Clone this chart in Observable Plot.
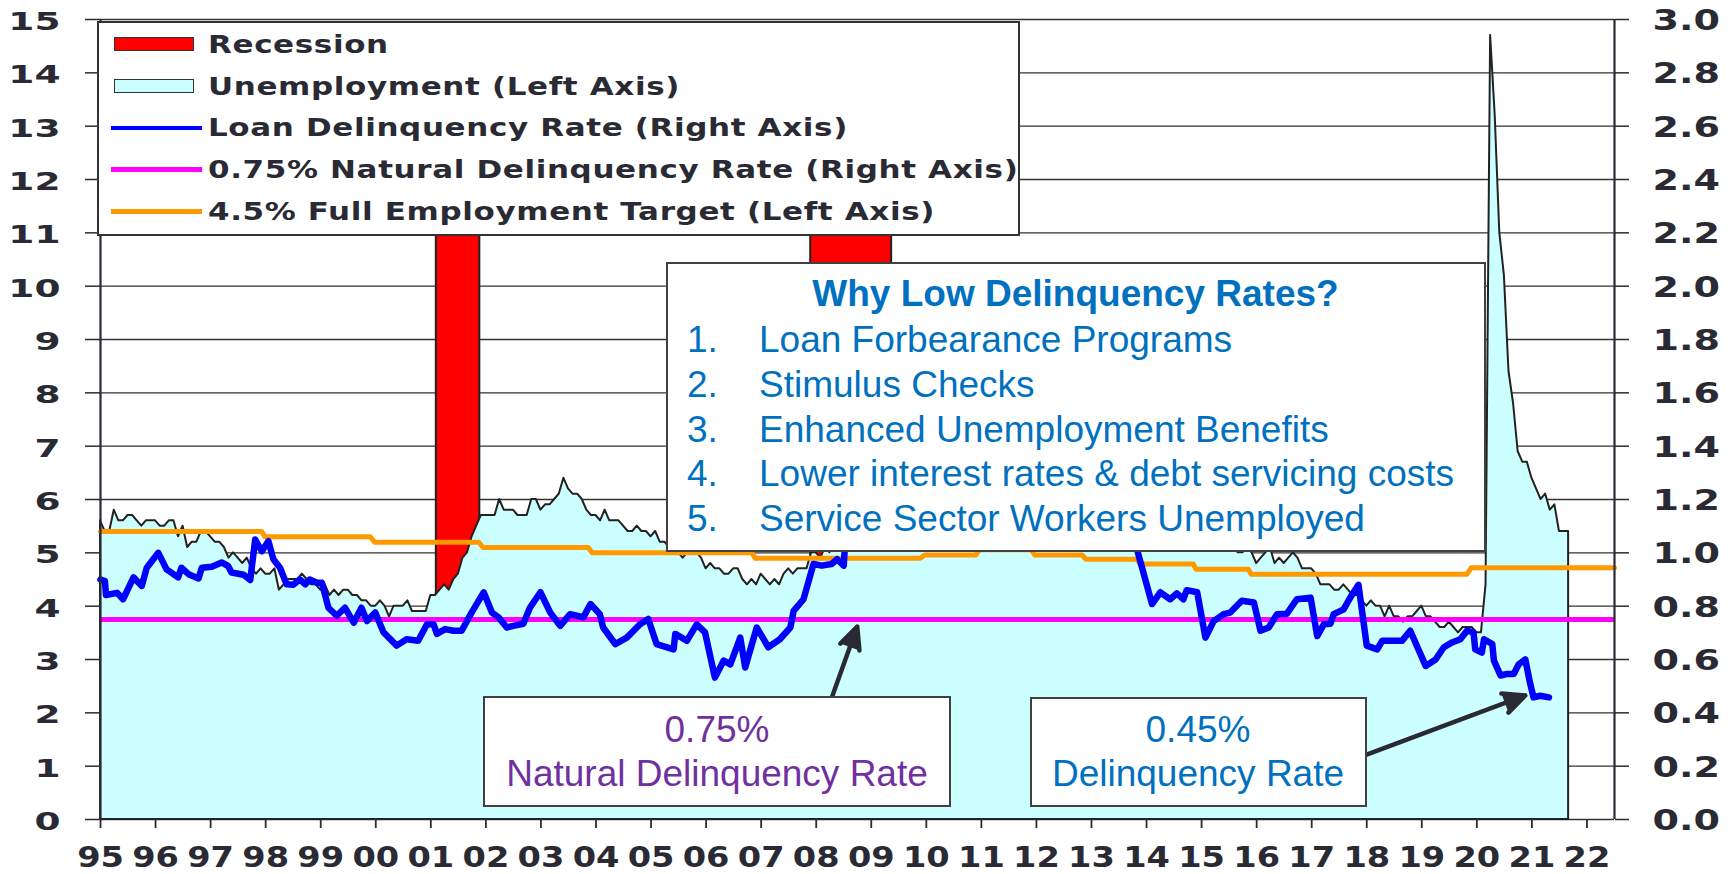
<!DOCTYPE html>
<html><head><meta charset="utf-8">
<script src="https://cdn.jsdelivr.net/npm/d3@7"></script>
<script src="https://cdn.jsdelivr.net/npm/@observablehq/plot@0.6"></script>
<style>
html,body{margin:0;padding:0;background:#fff;overflow:hidden}
#wrap{position:relative;width:1731px;height:874px;background:#fff}
#wrap svg{position:absolute;left:0;top:0}
.ov{position:absolute;box-sizing:border-box;background:#fff}
.t{position:absolute;white-space:nowrap}
</style></head><body><div id="wrap"></div>
<script>
// ---------------- DATA ----------------
const unemploymentStart = 1995; // monthly, Jan 1995 onward (left axis, %)
const unemployment = [
  5.6,5.4,5.4,5.8,5.6,5.6,5.7,5.7,5.6,5.5,5.6,5.6,
  5.6,5.5,5.5,5.6,5.6,5.3,5.5,5.1,5.2,5.2,5.4,5.4,
  5.3,5.2,5.2,5.1,4.9,5.0,4.9,4.8,4.9,4.7,4.6,4.7,
  4.6,4.6,4.7,4.3,4.4,4.5,4.5,4.5,4.6,4.5,4.4,4.4,
  4.3,4.4,4.2,4.3,4.2,4.3,4.3,4.2,4.2,4.1,4.1,4.0,
  4.0,4.1,4.0,3.8,4.0,4.0,4.0,4.1,3.9,3.9,3.9,3.9,
  4.2,4.2,4.3,4.4,4.3,4.5,4.6,4.9,5.0,5.3,5.5,5.7,
  5.7,5.7,5.7,6.0,5.8,5.8,5.8,5.7,5.7,5.7,6.0,6.0,
  5.8,5.9,5.9,6.0,6.1,6.4,6.2,6.1,6.1,6.0,5.8,5.7,
  5.7,5.6,5.8,5.6,5.6,5.6,5.5,5.4,5.4,5.5,5.4,5.4,
  5.3,5.4,5.2,5.2,5.1,5.0,5.0,4.9,5.0,5.0,5.0,4.9,
  4.7,4.8,4.7,4.7,4.6,4.6,4.7,4.7,4.5,4.4,4.5,4.4,
  4.6,4.5,4.4,4.5,4.4,4.6,4.7,4.6,4.7,4.7,4.7,5.0,
  5.0,4.9,5.1,5.0,5.4,5.6,5.8,6.1,6.1,6.5,6.8,7.3,
  7.8,8.3,8.7,9.0,9.4,9.5,9.5,9.6,9.8,10.0,9.9,9.9,
  9.8,9.8,9.9,9.9,9.6,9.4,9.4,9.5,9.5,9.4,9.8,9.3,
  9.1,9.0,9.0,9.1,9.0,9.1,9.0,9.0,9.0,8.8,8.6,8.5,
  8.3,8.3,8.2,8.2,8.2,8.2,8.2,8.1,7.8,7.8,7.7,7.9,
  8.0,7.7,7.5,7.6,7.5,7.5,7.3,7.2,7.2,7.2,6.9,6.7,
  6.6,6.7,6.7,6.2,6.3,6.1,6.2,6.1,5.9,5.7,5.8,5.6,
  5.7,5.5,5.4,5.4,5.6,5.3,5.2,5.1,5.0,5.0,5.1,5.0,
  4.8,4.9,5.0,5.1,4.8,4.9,4.8,4.9,5.0,4.9,4.7,4.7,
  4.7,4.6,4.4,4.4,4.4,4.3,4.3,4.4,4.3,4.2,4.2,4.1,
  4.0,4.1,4.0,4.0,3.8,4.0,3.8,3.8,3.7,3.8,3.8,3.9,
  4.0,3.8,3.8,3.7,3.6,3.6,3.7,3.6,3.5,3.6,3.6,3.6,
  3.5,3.5,4.4,14.7,13.2,11.0,10.2,8.4,7.8,6.9,6.7,6.7,
  6.4,6.2,6.0,6.1,5.8,5.9,5.4,5.4,5.4
];

// Loan delinquency rate (right axis, %): [date, rate]
const delinquency = [
  [1995.00,0.900],[1995.08,0.894],[1995.10,0.842],[1995.30,0.850],[1995.41,0.826],[1995.60,0.908],
  [1995.75,0.876],[1995.84,0.944],[1996.05,1.000],[1996.20,0.938],[1996.41,0.908],[1996.47,0.944],
  [1996.60,0.920],[1996.78,0.904],[1996.84,0.944],[1997.02,0.948],[1997.20,0.964],[1997.32,0.950],
  [1997.38,0.926],[1997.60,0.918],[1997.72,0.898],[1997.81,1.050],[1997.93,1.006],[1998.05,1.044],
  [1998.14,0.976],[1998.26,0.944],[1998.38,0.882],[1998.50,0.880],[1998.62,0.900],[1998.72,0.882],
  [1998.80,0.900],[1998.93,0.888],[1999.02,0.888],[1999.14,0.794],[1999.29,0.764],[1999.44,0.794],
  [1999.60,0.738],[1999.74,0.794],[1999.84,0.744],[1999.99,0.776],[2000.14,0.702],[2000.38,0.652],
  [2000.56,0.676],[2000.77,0.670],[2000.93,0.732],[2001.05,0.732],[2001.11,0.696],[2001.26,0.714],
  [2001.41,0.708],[2001.56,0.708],[2001.74,0.776],[2001.96,0.852],[2002.11,0.776],[2002.23,0.758],
  [2002.38,0.720],[2002.50,0.726],[2002.68,0.734],[2002.80,0.794],[2002.99,0.852],[2003.17,0.776],
  [2003.35,0.726],[2003.53,0.770],[2003.65,0.764],[2003.77,0.758],[2003.90,0.808],[2004.07,0.770],
  [2004.13,0.720],[2004.35,0.658],[2004.56,0.682],[2004.80,0.732],[2004.95,0.752],[2005.10,0.658],
  [2005.41,0.638],[2005.44,0.696],[2005.65,0.670],[2005.83,0.732],[2005.98,0.702],[2006.16,0.532],
  [2006.32,0.596],[2006.44,0.582],[2006.62,0.682],[2006.71,0.570],[2006.92,0.720],[2007.13,0.646],
  [2007.34,0.676],[2007.53,0.720],[2007.59,0.782],[2007.77,0.826],[2007.95,0.958],[2008.10,0.952],
  [2008.28,0.958],[2008.38,0.976],[2008.50,0.952],[2008.55,1.12],[2008.90,1.30],[2009.30,1.45],
  [2009.70,1.55],[2010.20,1.50],[2010.70,1.40],[2011.20,1.30],[2011.70,1.22],[2012.20,1.16],
  [2012.70,1.12],[2013.20,1.10],[2013.60,1.08],[2013.78,1.05],[2013.86,0.988],[2014.10,0.808],
  [2014.25,0.852],[2014.43,0.826],[2014.55,0.848],[2014.67,0.826],[2014.73,0.860],[2014.92,0.852],
  [2015.07,0.682],[2015.22,0.744],[2015.40,0.770],[2015.52,0.776],[2015.73,0.820],[2015.95,0.814],
  [2016.07,0.708],[2016.22,0.720],[2016.37,0.770],[2016.55,0.772],[2016.73,0.826],[2016.98,0.832],
  [2017.10,0.688],[2017.22,0.732],[2017.34,0.734],[2017.40,0.770],[2017.58,0.788],[2017.70,0.832],
  [2017.85,0.880],[2018.00,0.652],[2018.19,0.638],[2018.28,0.670],[2018.49,0.670],[2018.64,0.670],
  [2018.79,0.708],[2019.07,0.576],[2019.25,0.600],[2019.40,0.646],[2019.55,0.664],[2019.70,0.676],
  [2019.82,0.708],[2019.94,0.702],[2019.97,0.638],[2020.09,0.626],[2020.13,0.676],[2020.28,0.658],
  [2020.31,0.596],[2020.43,0.540],[2020.55,0.546],[2020.67,0.546],[2020.76,0.582],[2020.88,0.600],
  [2020.97,0.508],[2021.03,0.458],[2021.15,0.464],[2021.31,0.458]
];

// Full employment target (left axis, %): [date, rate]
const fullEmploymentTarget = [
  [1995.00,5.40],[1997.93,5.40],[1997.99,5.30],[1999.90,5.30],[1999.98,5.20],[2001.87,5.20],
  [2001.95,5.10],[2003.86,5.10],[2003.93,5.00],[2006.83,5.00],[2006.89,4.90],[2009.89,4.90],
  [2009.97,4.96],[2010.90,4.96],[2010.97,5.06],[2011.90,5.06],[2011.97,4.96],[2012.83,4.96],
  [2012.90,4.88],[2013.83,4.88],[2013.88,4.79],[2014.85,4.79],[2014.90,4.69],[2015.85,4.69],
  [2015.90,4.60],[2019.82,4.60],[2019.90,4.72],[2022.50,4.72]
];

const naturalDelinquency = 0.75;     // right axis %
const rightAxisFactor = 5;           // left units per right-axis unit (15 <-> 3.0)
const recessionStart = [2001.10, 2007.90];
const recessionEnd   = [2001.89, 2009.37];
const recessionTop = 14.85;
const leftTicks = d3.range(0, 16);
const yearTicks = d3.range(1995, 2023);
const xDomain = [1995, 2022.5];
const yDomain = [0, 15];

// annotation arrows (date, left-axis value)
const arrowFromDate = [2008.285, 2018.01];
const arrowFromValue = [2.294, 1.221];
const arrowToDate = [2008.745, 2020.88];
const arrowToValue = [3.618, 2.326];

const legendLabels = [
  "Recession",
  "Unemployment (Left Axis)",
  "Loan Delinquency Rate (Right Axis)",
  "0.75% Natural Delinquency Rate (Right Axis)",
  "4.5% Full Employment Target (Left Axis)"
];
const boxTitle = "Why Low Delinquency Rates?";
const reasons = [
  "Loan Forbearance Programs",
  "Stimulus Checks",
  "Enhanced Unemployment Benefits",
  "Lower interest rates & debt servicing costs",
  "Service Sector Workers Unemployed"
];
const noteNatural = ["0.75%", "Natural Delinquency Rate"];
const noteCurrent = ["0.45%", "Delinquency Rate"];

// ---------------- BUILD ----------------
const unempData = unemployment.map((u, i) => ({date: unemploymentStart + i / 12, u}));
const delinqData = delinquency.map(([date, rate]) => ({date, rate}));
const targetData = fullEmploymentTarget.map(([date, rate]) => ({date, rate}));
const recessions = recessionStart.map((s, i) => ({start: s, end: recessionEnd[i]}));
const arrows = arrowFromDate.map((d, i) => ({x1: d, y1: arrowFromValue[i], x2: arrowToDate[i], y2: arrowToValue[i]}));

const ink = "#2a2a34";
const plot = Plot.plot({
  width: 1731, height: 874,
  marginLeft: 100, marginRight: 117, marginTop: 19, marginBottom: 55,
  x: {domain: xDomain},
  y: {domain: yDomain},
  style: {fontFamily: "'DejaVu Sans', sans-serif", fontWeight: "bold", color: ink, background: "transparent"},
  marks: [
    Plot.ruleY(leftTicks, {stroke: "#333", strokeWidth: 1.3}),
    Plot.rect(recessions, {x1: "start", x2: "end", y1: yDomain[0], y2: recessionTop, fill: "#ff0000", stroke: "#222", strokeWidth: 2}),
    Plot.areaY(unempData, {x: "date", y: "u", fill: "#ccffff", stroke: "#222", strokeWidth: 2, strokeLinejoin: "round"}),
    Plot.ruleY([naturalDelinquency], {y: d => d * rightAxisFactor, stroke: "#ff00ff", strokeWidth: 5}),
    Plot.line(targetData, {x: "date", y: "rate", stroke: "#ff9900", strokeWidth: 5}),
    Plot.line(delinqData, {x: "date", y: d => d.rate * rightAxisFactor, stroke: "#0000ff", strokeWidth: 6.5, strokeLinejoin: "round"}),
    Plot.ruleX(xDomain, {y1: yDomain[0], y2: yDomain[1], stroke: ink, strokeWidth: 2.2}),
    Plot.axisY(leftTicks, {anchor: "left", tickSize: 15, tickPadding: 25, fontSize: 25, label: null, strokeWidth: 1.5,
      tickFormat: d => String(d)}),
    Plot.axisY(leftTicks, {anchor: "right", tickSize: 14, tickPadding: 24, fontSize: 28, label: null, strokeWidth: 1.5,
      tickFormat: d => (d / rightAxisFactor).toFixed(1)}),
    Plot.axisX(yearTicks, {anchor: "bottom", tickSize: 9, tickPadding: 19, fontSize: 28, label: null, strokeWidth: 1.8,
      tickFormat: d => String(d % 100).padStart(2, "0")}),
    Plot.arrow(arrows, {x1: "x1", y1: "y1", x2: "x2", y2: "y2", stroke: ink, fill: ink, strokeWidth: 4.5, headLength: 8, headAngle: 50})
  ]
});

// stretch the (wide, bold) axis labels horizontally around their anchor
function stretch(group, sx, ddy) {
  if (!group) return;
  group.querySelectorAll("text").forEach(t => {
    const tr = t.getAttribute("transform") || "";
    t.setAttribute("transform", `${tr} translate(0,${ddy}) scale(${sx},1)`);
  });
}
const yLabelGroups = plot.querySelectorAll('g[aria-label="y-axis tick label"]');
stretch(yLabelGroups[0], 1.5, 2.5);
stretch(yLabelGroups[1], 1.36, 1.5);
stretch(plot.querySelector('g[aria-label="x-axis tick label"]'), 1.2, 0);

const wrap = document.getElementById("wrap");
wrap.appendChild(plot);

// ---------------- OVERLAYS ----------------
function box(l, t, w, h, border) {
  const d = document.createElement("div");
  d.className = "ov";
  Object.assign(d.style, {left: l + "px", top: t + "px", width: w + "px", height: h + "px", border});
  wrap.appendChild(d);
  return d;
}
function label(str, o) {
  const d = document.createElement("div");
  d.className = "t";
  d.textContent = str;
  Object.assign(d.style, {
    top: (o.baseline - 0.846 * o.size) + "px", fontSize: o.size + "px", lineHeight: o.size + "px",
    fontFamily: o.family, fontWeight: o.weight || "normal", color: o.color, letterSpacing: (o.ls || 0) + "px"
  });
  if (o.anchor === "middle") { d.style.left = (o.x - 600) + "px"; d.style.width = "1200px"; d.style.textAlign = "center"; }
  else d.style.left = o.x + "px";
  if (o.sx) { d.style.transform = `scaleX(${o.sx})`; d.style.transformOrigin = "0 0"; }
  wrap.appendChild(d);
}
const arial = "'Liberation Sans', Arial, sans-serif";
const dejavu = "'DejaVu Sans', sans-serif";

// legend
box(97, 21, 923, 215, "2px solid #333");
const swatchKind = ["rect", "rect", "line", "line", "line"];
const swatchColor = ["#ff0000", "#ccffff", "#0000ff", "#ff00ff", "#ff9900"];
legendLabels.forEach((txt, i) => {
  const base = 53 + i * 41.9;
  const mid = base - 9;
  if (swatchKind[i] === "rect") {
    const s = box(114, mid - 7, 80, 14, "1.5px solid #333");
    s.style.background = swatchColor[i];
  } else {
    const s = box(111, mid - 2.25, 91, 4.5, "none");
    s.style.background = swatchColor[i];
  }
  label(txt, {x: 208, baseline: base, size: 24, family: dejavu, weight: "bold", color: ink, ls: 0.5, sx: 1.29});
});

// reasons box
box(666, 262, 820, 290, "2px solid #404040");
label(boxTitle, {x: 1075.5, anchor: "middle", baseline: 306.5, size: 37, family: arial, weight: "bold", color: "#0070c0"});
reasons.forEach((r, i) => {
  const b = 352.7 + i * 44.6;
  label((i + 1) + ".", {x: 687, baseline: b, size: 37, family: arial, color: "#0070c0"});
  label(r, {x: 759, baseline: b, size: 37, family: arial, color: "#0070c0"});
});

// annotation boxes
box(483, 696, 468, 111, "2px solid #404040");
noteNatural.forEach((s, i) => label(s, {x: 717, anchor: "middle", baseline: 742.7 + i * 44, size: 37, family: arial, color: "#7030a0"}));
box(1030, 697, 337, 110, "2px solid #404040");
noteCurrent.forEach((s, i) => label(s, {x: 1198, anchor: "middle", baseline: 742.7 + i * 44, size: 37, family: arial, color: "#0070c0"}));
</script></body></html>
